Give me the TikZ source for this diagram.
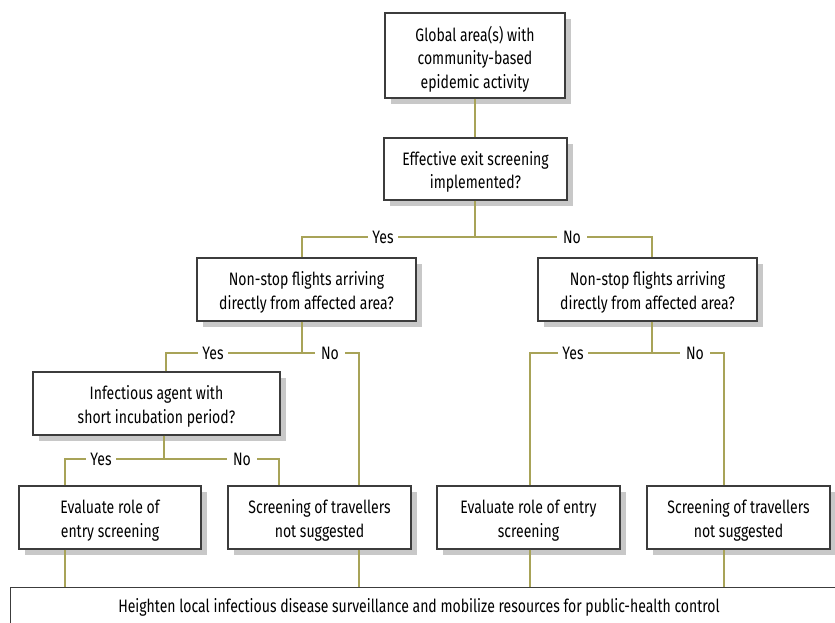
\documentclass[tikz,border=0pt]{standalone}
\usepackage{fontspec}
\setmainfont{Fira Sans}[FakeStretch=0.78]
\usetikzlibrary{shadows}
\definecolor{olive}{RGB}{168,163,88}
\definecolor{boxline}{RGB}{60,60,60}
\definecolor{shade}{RGB}{200,200,200}
\tikzset{
  box/.style={draw=boxline, line width=1.3pt, fill=white, inner sep=0pt,
    drop shadow={shadow xshift=6pt, shadow yshift=-6pt, fill=shade, opacity=1}},
  boxtext/.style={align=center, inner sep=0pt, font=\fontsize{18}{23.5}\selectfont},
  conn/.style={draw=olive, line width=1.3pt},
  lbl/.style={fill=white, inner sep=0pt, minimum width=30pt, minimum height=16pt,
    font=\fontsize{18}{20}\selectfont}
}
\begin{document}
\begin{tikzpicture}[x=1pt,y=-1pt]
\clip (0,0) rectangle (835,623);
\fill[white] (0,0) rectangle (835,623);

% boxes
\node[box, minimum width=180pt, minimum height=85pt] (top) at (475,55.5) {};
\node[boxtext] (toptxt) at ([yshift=-3.5pt]top.center)
  {Global area(s) with\\community-based\\epidemic activity};
\node[box, minimum width=183pt, minimum height=62pt] (exit) at (475.5,169) {};
\node[boxtext] (exittxt) at ([yshift=-3pt]exit.center)
  {Effective exit screening\\implemented?};
\node[box, minimum width=219pt, minimum height=63pt] (lq) at (306.5,289.5) {};
\node[boxtext] (lqtxt) at ([yshift=-3pt]lq.center)
  {Non-stop flights arriving\\directly from affected area?};
\node[box, minimum width=219pt, minimum height=63pt] (rq) at (647.5,289.5) {};
\node[boxtext] (rqtxt) at ([yshift=-3pt]rq.center)
  {Non-stop flights arriving\\directly from affected area?};
\node[box, minimum width=247pt, minimum height=63pt] (agent) at (156.5,403.5) {};
\node[boxtext] (agenttxt) at ([yshift=-3pt]agent.center)
  {Infectious agent with\\short incubation period?};
\node[box, minimum width=182pt, minimum height=63pt] (evl) at (110,517.5) {};
\node[boxtext] (evltxt) at ([yshift=-3pt]evl.center)
  {Evaluate role of\\entry screening};
\node[box, minimum width=183pt, minimum height=63pt] (scl) at (319.5,517.5) {};
\node[boxtext] (scltxt) at ([yshift=-3pt]scl.center)
  {Screening of travellers\\not suggested};
\node[box, minimum width=183pt, minimum height=63pt] (evr) at (528.5,517.5) {};
\node[boxtext] (evrtxt) at ([yshift=-3pt]evr.center)
  {Evaluate role of entry\\screening};
\node[box, minimum width=183pt, minimum height=63pt] (scr) at (738.5,517.5) {};
\node[boxtext] (scrtxt) at ([yshift=-3pt]scr.center)
  {Screening of travellers\\not suggested};
\node[draw=boxline, line width=1.3pt, fill=white, minimum width=840pt, minimum height=60pt,
  anchor=north west, inner sep=0pt] (bottom) at (10,587) {};
\node[font=\fontsize{18}{20}\selectfont] (btxt) at (419,607)
  {Heighten local infectious disease surveillance and mobilize resources for public-health control};

% junction coordinates
\coordinate (j1) at (475,237);
\coordinate (j1l) at (302,237);
\coordinate (j1r) at (652,237);
\coordinate (j2) at (302,353);
\coordinate (j2l) at (166,353);
\coordinate (j2r) at (359,353);
\coordinate (j3) at (164,459);
\coordinate (j3l) at (65,459);
\coordinate (j3r) at (279,459);
\coordinate (j4) at (652,353);
\coordinate (j4l) at (530,353);
\coordinate (j4r) at (724,353);

% connectors
\draw[conn] (top.south -| j1) -- (exit.north -| j1);
\draw[conn] (exit.south -| j1) -- (j1);
\draw[conn] (lq.north -| j1l) -- (j1l) -- (j1r) -- (rq.north -| j1r);
\draw[conn] (lq.south -| j2) -- (j2);
\draw[conn] (agent.north -| j2l) -- (j2l) -- (j2r) -- (scl.north -| j2r);
\draw[conn] (agent.south -| j3) -- (j3);
\draw[conn] (evl.north -| j3l) -- (j3l) -- (j3r) -- (scl.north -| j3r);
\draw[conn] (rq.south -| j4) -- (j4);
\draw[conn] (evr.north -| j4l) -- (j4l) -- (j4r) -- (scr.north -| j4r);
\draw[conn] (evl.south -| j3l) -- (bottom.north -| j3l);
\draw[conn] (scl.south -| j2r) -- (bottom.north -| j2r);
\draw[conn] (evr.south -| j4l) -- (bottom.north -| j4l);
\draw[conn] (scr.south -| j4r) -- (bottom.north -| j4r);

% labels
\node[lbl] (y1) at (383,237) {Yes};
\node[lbl] (n1) at (572,237) {No};
\node[lbl] (y2) at (213,353) {Yes};
\node[lbl] (n2) at (330,353) {No};
\node[lbl] (y3) at (101,459) {Yes};
\node[lbl] (n3) at (242,459) {No};
\node[lbl] (y4) at (573,353) {Yes};
\node[lbl] (n4) at (695,353) {No};
\end{tikzpicture}
\end{document}
